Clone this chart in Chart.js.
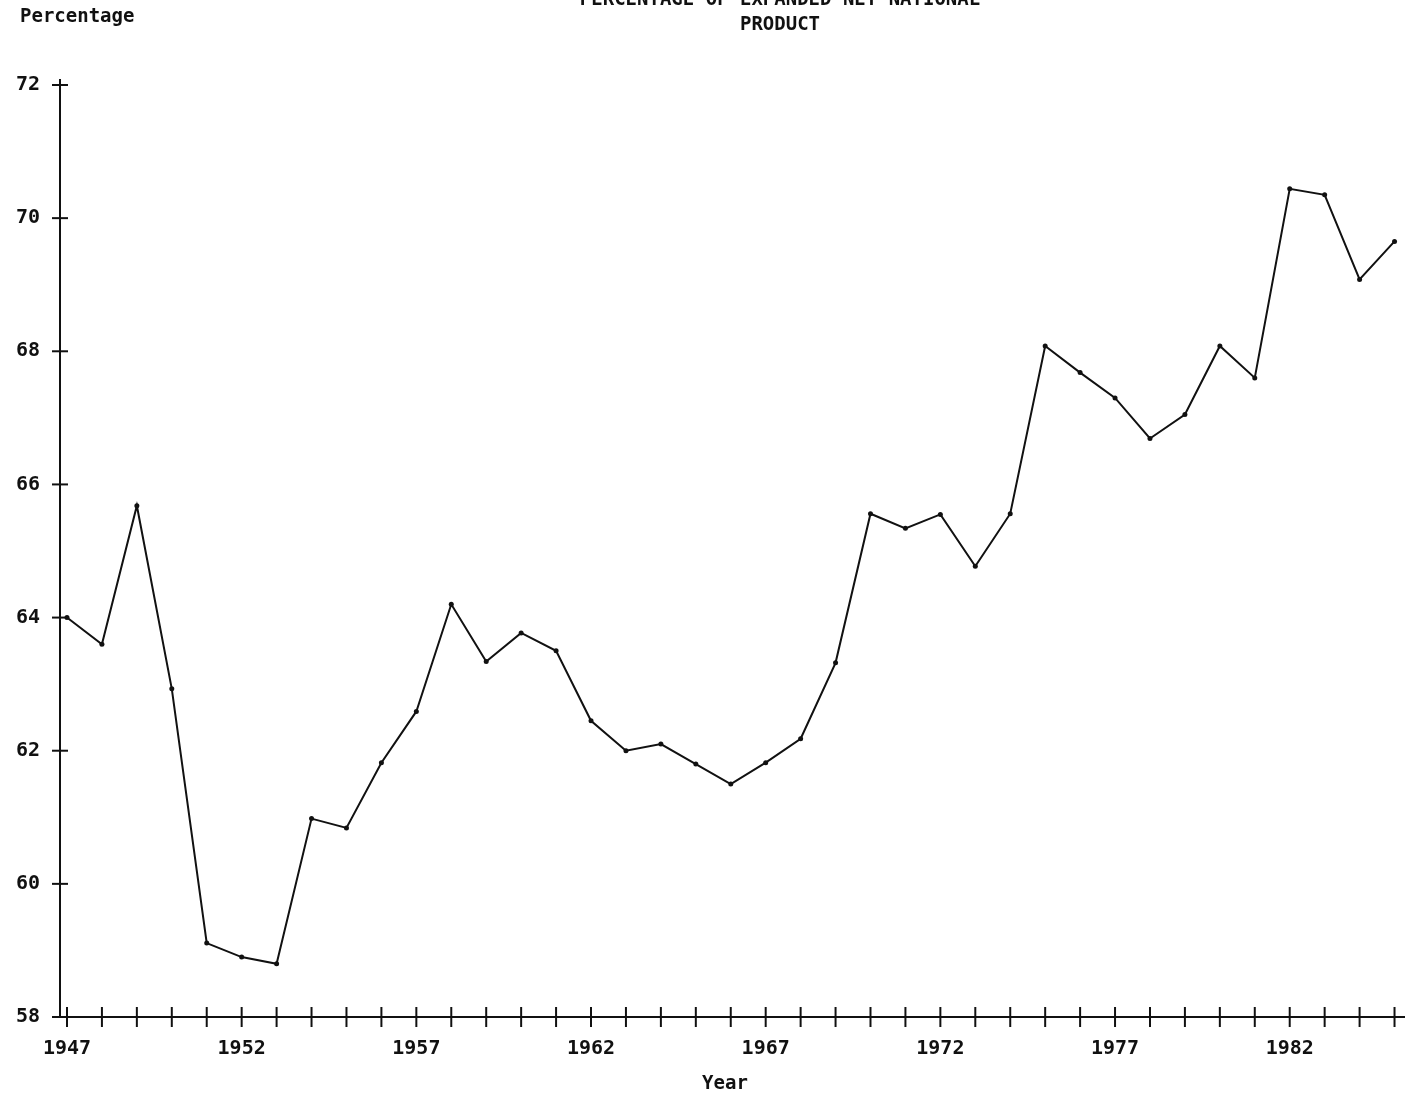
<!DOCTYPE html>
<html>
<head>
<meta charset="utf-8">
<script src="https://cdn.jsdelivr.net/npm/chart.js@4/dist/chart.umd.min.js"></script>
<style>
  html, body { margin: 0; padding: 0; background: #fff; }
  #wrap { width: 1417px; height: 1102px; position: relative; }
</style>
</head>
<body>
<div id="wrap"><canvas id="chart"></canvas></div>
<script>
// ===== Data =====
const years = [1947,1948,1949,1950,1951,1952,1953,1954,1955,1956,1957,1958,1959,1960,1961,1962,1963,1964,1965,1966,
               1967,1968,1969,1970,1971,1972,1973,1974,1975,1976,1977,1978,1979,1980,1981,1982,1983,1984,1985];
const percentages = [64.0,63.6,65.68,62.93,59.11,58.9,58.8,60.98,60.84,61.82,62.59,64.2,63.34,63.77,63.5,62.45,62.0,62.1,61.8,61.5,
                     61.82,62.18,63.32,65.56,65.34,65.55,64.77,65.56,68.08,67.68,67.3,66.69,67.05,68.08,67.6,70.44,70.35,69.08,69.65];
const yTicks = [58, 60, 62, 64, 66, 68, 70, 72];
const labelYears = [1947, 1952, 1957, 1962, 1967, 1972, 1977, 1982];

const FONT = '"DejaVu Sans Mono", monospace';
const INK = '#111';

const crossTicks = {
    id: 'crossTicks',
    afterDraw(chart) {
        const ctx = chart.ctx, x = chart.scales.x, y = chart.scales.y;
        const area = chart.chartArea;
        ctx.save();
        ctx.strokeStyle = INK;
        ctx.lineWidth = 2;
        // axes
        ctx.beginPath();
        ctx.moveTo(area.left, area.top - 6); ctx.lineTo(area.left, area.bottom);
        ctx.lineTo(area.right, area.bottom);
        ctx.stroke();
        // y ticks crossing the axis
        yTicks.forEach(v => {
            const py = y.getPixelForValue(v);
            ctx.beginPath(); ctx.moveTo(area.left - 8, py); ctx.lineTo(area.left + 8, py); ctx.stroke();
        });
        // x ticks crossing the axis
        years.forEach(v => {
            const px = x.getPixelForValue(v);
            ctx.beginPath(); ctx.moveTo(px, area.bottom - 10); ctx.lineTo(px, area.bottom + 10); ctx.stroke();
        });
        // texts
        ctx.fillStyle = INK;
        ctx.font = 'bold 19px ' + FONT;
        ctx.textAlign = 'left'; ctx.textBaseline = 'middle';
        ctx.fillText('Percentage', 20, 17);
        ctx.textAlign = 'center';
        ctx.fillText('PERCENTAGE OF EXPANDED NET NATIONAL', 780, 0);
        ctx.fillText('PRODUCT', 780, 25);
        ctx.fillText('Year', 725, 1084);
        ctx.restore();
    }
};

new Chart(document.getElementById('chart'), {
    type: 'line',
    data: {
        datasets: [{
            data: years.map((yr, i) => ({ x: yr, y: percentages[i] })),
            borderColor: INK, borderWidth: 2,
            pointRadius: 2.5, pointBackgroundColor: INK, pointBorderWidth: 0,
            tension: 0
        }]
    },
    options: {
        responsive: true, maintainAspectRatio: false, animation: false,
        layout: { padding: { top: 85, right: 12, left: 0, bottom: 0 } },
        plugins: { legend: { display: false }, tooltip: { enabled: false } },
        scales: {
            x: {
                type: 'linear', min: 1946.8, max: 1985.3,
                afterBuildTicks: s => { s.ticks = labelYears.map(v => ({ value: v })); },
                afterFit: s => { s.height = 85; },
                grid: { display: false }, border: { display: false },
                ticks: { color: INK, font: { family: FONT, size: 20, weight: 'bold' }, padding: 12, maxRotation: 0,
                         callback: v => String(v) }
            },
            y: {
                min: 58, max: 72,
                afterBuildTicks: s => { s.ticks = yTicks.map(v => ({ value: v })); },
                afterFit: s => { s.width = 60; },
                grid: { display: false }, border: { display: false },
                ticks: { color: INK, font: { family: FONT, size: 20, weight: 'bold' }, padding: 12 }
            }
        }
    },
    plugins: [crossTicks]
});
</script>
</body>
</html>
